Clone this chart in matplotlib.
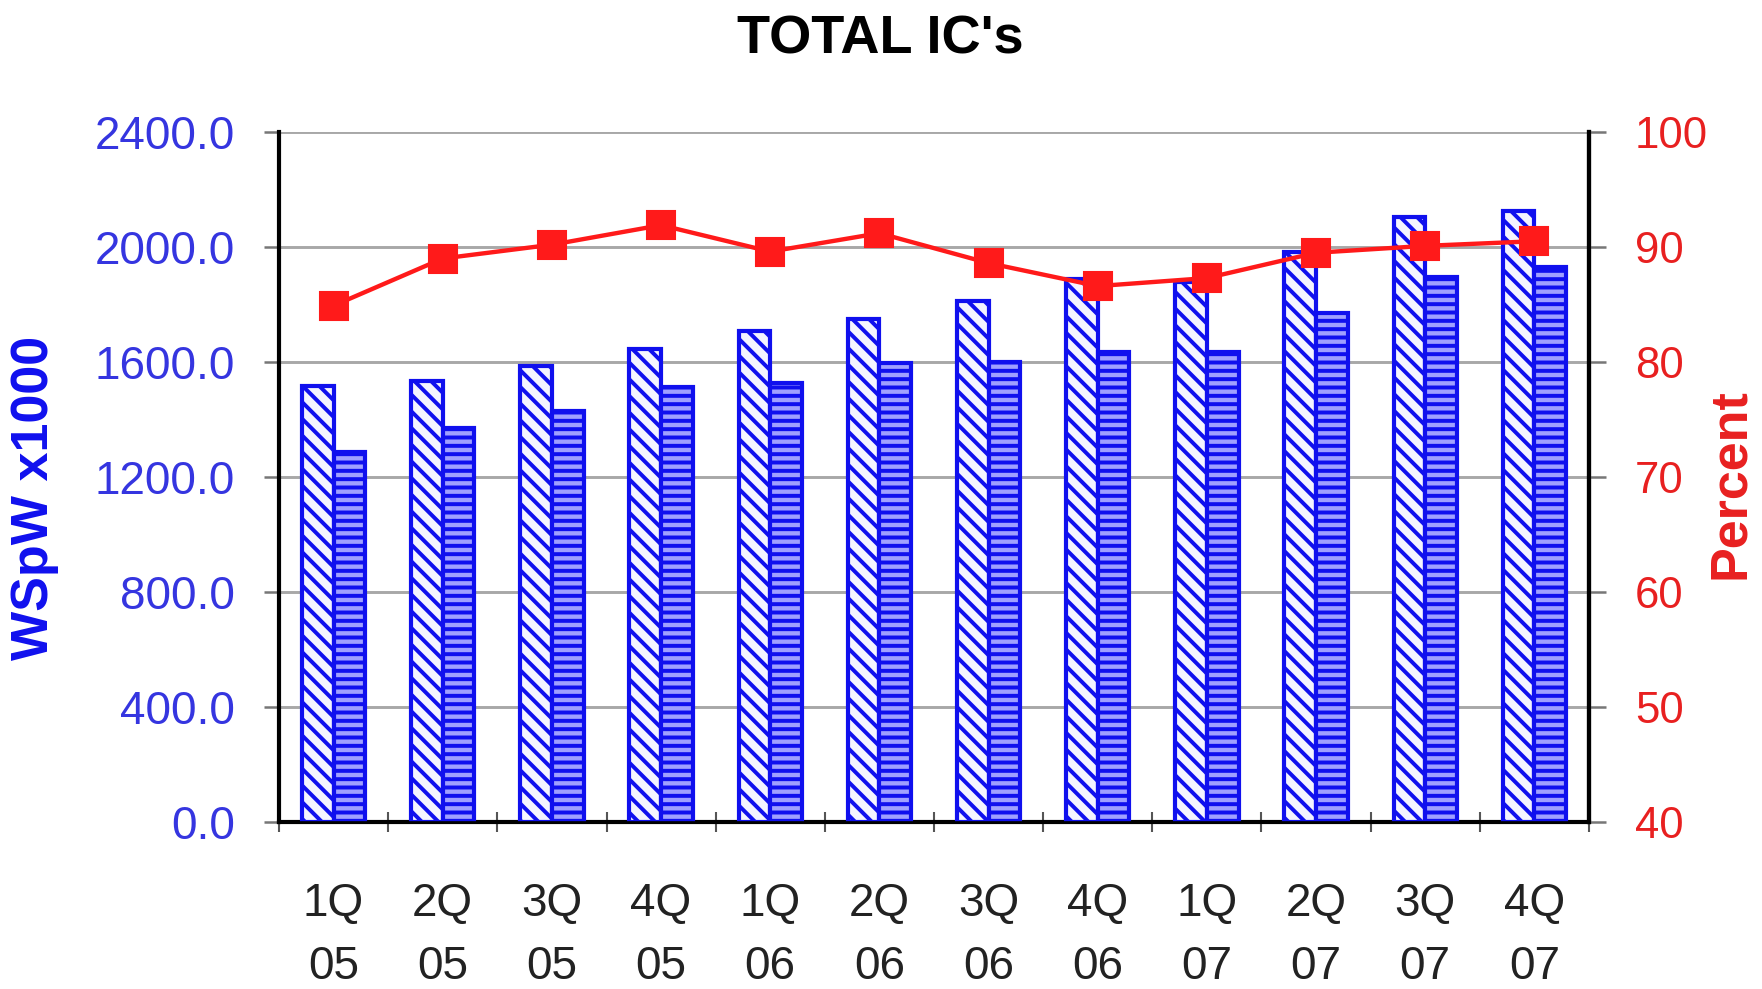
import matplotlib
matplotlib.use("Agg")
import matplotlib.pyplot as plt
import numpy as np

# Quarterly data
quarters = ["1Q\n05", "2Q\n05", "3Q\n05", "4Q\n05",
            "1Q\n06", "2Q\n06", "3Q\n06", "4Q\n06",
            "1Q\n07", "2Q\n07", "3Q\n07", "4Q\n07"]
capacity = [1515, 1533, 1587, 1645, 1707, 1748, 1813, 1887, 1877, 1981, 2103, 2124]
starts = [1287, 1372, 1430, 1512, 1527, 1597, 1601, 1636, 1636, 1772, 1894, 1929]
utilization = [84.9, 89.0, 90.2, 91.9, 89.6, 91.2, 88.6, 86.6, 87.3, 89.5, 90.1, 90.5]

blue = "#1010ee"
red = "#ff1a1a"

plt.rcParams["font.family"] = ["Liberation Sans", "DejaVu Sans"]
plt.rcParams["hatch.linewidth"] = 1.9

fig = plt.figure(figsize=(1762 / 150, 989 / 150), dpi=150)
ax = fig.add_axes([279 / 1762, 1 - 822 / 989, 1310 / 1762, 690 / 989])

x = np.arange(len(quarters))
width = 0.29

ax.bar(x - width / 2, capacity, width, facecolor="#f4f4ff", edgecolor=blue,
       linewidth=2.0, hatch="\\\\\\", zorder=3)
ax.bar(x + width / 2, starts, width, facecolor="#a0a0ff", edgecolor=blue,
       linewidth=2.0, hatch="---", zorder=3)

ax.set_xlim(-0.5, len(quarters) - 0.5)
ax.set_ylim(0, 2400)
yt = np.arange(0, 2401, 400)
ax.set_yticks(yt)
ax.set_yticklabels([f"{v:.1f}" for v in yt])
ax.grid(axis="y", color="#a8a8a8", linewidth=1.4, zorder=0)

ax.set_xticks(x)
ax.set_xticklabels(quarters, linespacing=1.55)
ax.set_xticks(np.arange(-0.5, len(quarters), 1.0), minor=True)
ax.tick_params(axis="x", which="major", length=0, pad=29, labelsize=22,
               labelcolor="#222222")
ax.tick_params(axis="x", which="minor", direction="inout", length=10,
               width=1.0, color="#555555")
ax.tick_params(axis="y", length=7, width=1.2, color="#777777", pad=14,
               labelsize=22, labelcolor="#3535e0")

for side in ("left", "bottom", "right"):
    ax.spines[side].set_linewidth(2.0)
    ax.spines[side].set_color("black")
ax.spines["top"].set_visible(False)

ax.set_ylabel("WSpW x1000", fontsize=25, fontweight="bold", color=blue,
              va="center")
ax.yaxis.set_label_coords(-0.187, 0.47)

# Utilization on the secondary axis
ax2 = ax.twinx()
ax2.plot(x, utilization, color=red, linewidth=2.1, marker="s",
         markersize=13, zorder=5)
ax2.set_ylim(40, 100)
ax2.set_yticks(np.arange(40, 101, 10))
ax2.tick_params(axis="y", length=8, width=1.2, color="#777777", pad=14,
                labelsize=21, labelcolor="#e82020")
ax2.spines["right"].set_linewidth(2.0)
ax2.spines["top"].set_visible(False)
ax2.spines["left"].set_visible(False)
ax2.set_ylabel("Percent", fontsize=25, fontweight="bold", color="#e82020",
               va="center")
ax2.yaxis.set_label_coords(1.108, 0.49)

fig.text(880 / 1762, 1 - 39 / 989, "TOTAL IC's", ha="center", va="center",
         fontsize=26, fontweight="bold")

fig.savefig("out.png", dpi=150, facecolor="white")
